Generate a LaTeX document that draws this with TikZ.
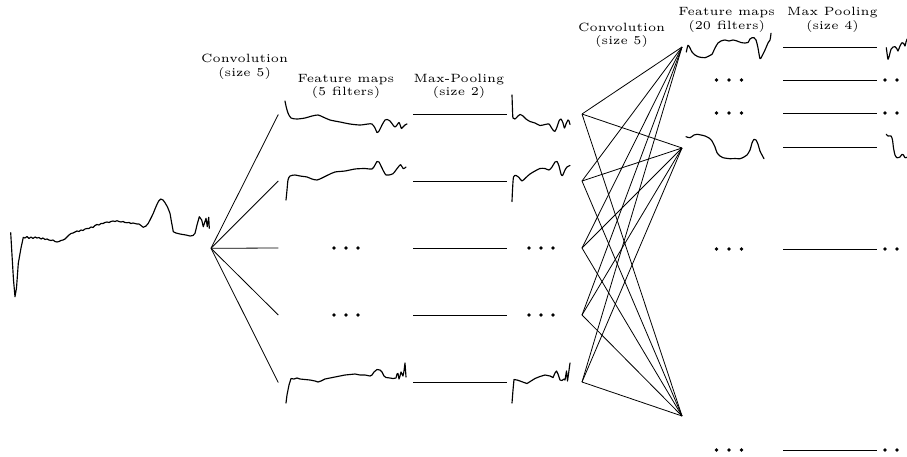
\documentclass[tikz,border=0pt]{standalone}
\begin{document}
\begin{tikzpicture}[x=1pt,y=-1pt,
  sig/.style={line width=1.15pt,line join=round,line cap=round},
  ssig/.style={sig,smooth,tension=0.45},
  conn/.style={line width=0.8pt},
  pool/.style={line width=0.85pt},
  lbl/.style={font=\fontsize{5}{5.6}\selectfont,scale=2.4,align=center,inner sep=0pt},
  dotmark/.style={fill=black}]
\useasboundingbox (0,0) rectangle (907,456);

% labels
\node[lbl] (l1) at (244.7,66.7) {Convolution\\(size 5)};
\node[lbl] (l2) at (346,86.3) {Feature maps\\(5 filters)};
\node[lbl] (l3) at (459,86.3) {Max-Pooling\\(size 2)};
\node[lbl] (l4) at (621.7,35) {Convolution\\(size 5)};
\node[lbl] (l5) at (726.7,20) {Feature maps\\(20 filters)};
\node[lbl] (l6) at (832.5,20) {Max Pooling\\(size 4)};

% input signal
\draw[sig] plot coordinates {(10.7,232.7) (12,255) (13.5,280) (15,296.7) (16.5,288) (18.3,263.3) (21,248) (23.3,237.3) (25,238) (27,236.5) (29,238.5) (31,237) (33,238.5) (35,237) (37,238) (39,237.5) (41,239) (43,238) (45,239.5) (47,239) (49,240) (51,240.5) (53,240) (55,241.5) (57,242) (59,241.5) (61,240.5) (63,240) (65,239) (67,237) (69,235) (71,233.5) (73,233) (75,232) (77,231) (79,231.5) (81,230) (83,230.5) (85,229) (87,228.5) (89,228.5) (91,227) (93,227.5) (95,225.5) (97,224.5) (99,225) (101,223.5) (103,223.5) (105,222.5) (107,222) (109,222.5) (111,221.5) (113,221) (115,221.5) (117,220.7) (119,221.5) (121,222) (123,221.5) (125,222.5) (127,222.7) (129,222.5) (131,223.5) (133,223) (135,223.5) (137,224) (139,224) (141,225.5) (143.3,227.3) (146,226) (148.3,223.3) (151,218) (153.3,213.3) (155,209) (156.7,205) (158.7,201) (160.7,199) (163,200) (165,202.7) (167.5,207) (170,213.3) (171.5,222) (173.3,231.7) (176,233) (180,234) (183,234.5) (186,235) (190,236) (193,235.5) (195,233.3) (197,225) (199.3,216.7) (201.7,220) (203.3,226.7) (206,218.3) (207.3,226.7) (208.7,217.3) (209.3,228.3)};

% first convolution fan
\coordinate (in) at (211,248.3);
\foreach \i/\y in {1/114.5,2/181,3/248,4/315,5/382.5}{
  \coordinate (f\i) at (278.3,\y);
  \draw[conn] (in) -- (f\i);
}

% feature maps (5 filters)
\draw[ssig] plot coordinates {(285,101) (286,106) (288,113) (291,118) (297,119) (305,118) (312,116) (318,115) (323,117) (330,120) (340,122) (350,124) (360,125) (368,124) (372,124) (375,128) (377,132.5) (379,131) (382,125) (385,120) (387,119.5) (390,121) (393,125) (395,127) (397,125) (399,122.5) (400.5,126) (401.5,128.5) (403,127) (405,125) (407,124)};
\draw[ssig] plot coordinates {(286,200) (287,190) (288,180) (290,176) (295,175) (300,176) (307,177) (312,179) (317,180) (322,178) (328,175) (335,172) (345,171) (355,169) (365,168.5) (372,169) (375,165) (377,161.5) (379,162) (381,166) (384,172) (386,175) (389,175) (393,173.7) (396,170) (398.3,167) (400.7,164.7) (403.3,168.7) (406,167)};
\draw[sig] plot coordinates {(286,403) (287,395) (289,385) (291,378.5) (294,379) (297,378) (300,379) (305,379.5) (310,380) (315,381) (318,382) (321,381) (325,379) (330,378) (335,377) (340,376) (345,375) (350,374.5) (355,374) (360,375) (365,375) (370,376) (372,375) (374,372) (377,369.5) (380,370) (382,372) (384,376) (386,377.5) (390,378) (393,378.5) (396,378) (397,374) (398,373.5) (399,379) (400,376) (401,372) (402,374) (403,376) (404,371) (405,363) (406,377)};
\foreach \y in {248,315}{
  \foreach \x in {334,346,358}{\fill[dotmark] (\x,\y) circle (1.9);}
}

% max-pooling (size 2)
\foreach \i/\y in {1/114,2/181,3/248,4/315,5/382.5}{
  \coordinate (ma\i) at (413.3,\y);
  \coordinate (mb\i) at (506.7,\y);
  \draw[pool] (ma\i) -- (mb\i);
}
\draw[ssig] plot coordinates {(512,95) (512.5,110) (513,118) (515,119) (518,116) (520,114.5) (523,116) (526,119) (530,121.5) (535,123) (540,125.5) (545,124.5) (549,124) (551,127) (553,130) (555,131.3) (557,127) (559,121) (561,119) (563,123) (564.5,128) (566,124) (568,120) (569,121) (570,124.5)};
\draw[ssig] plot coordinates {(512,201.5) (512.5,190) (513.5,177) (516,175.5) (519,177.5) (522,181) (526,177.5) (530,174) (535,171) (540,168.5) (545,168.5) (549,170) (552,167) (555,162) (557,161.5) (559,166) (561,174) (562.5,175.5) (565,170) (567,167) (570,165.5)};
\draw[sig] plot coordinates {(512,403) (513,390) (514,379.5) (517,380) (520,381) (524,382.5) (527,383.5) (531,381) (535,378.5) (540,376.5) (545,375) (550,376) (553,377.5) (555,373) (556.5,371) (558,374) (560,380) (562,380.5) (564,379) (565,380) (566.5,371) (567.5,381) (568.5,374) (570,363)};
\foreach \y in {248,315}{
  \foreach \x in {529,541,553}{\fill[dotmark] (\x,\y) circle (1.9);}
}

% second convolution
\foreach \i/\y in {1/114,2/181,3/248,4/315,5/382}{
  \coordinate (p\i) at (582,\y);
}
\coordinate (q1) at (682,47);
\coordinate (q2) at (682,148);
\coordinate (q3) at (682,416);
\foreach \i in {1,...,5}{
  \foreach \j in {1,2,3}{
    \draw[conn] (p\i) -- (q\j);
  }
}

% feature maps (20 filters)
\draw[ssig] plot coordinates {(686.3,52) (688,45.3) (690,48) (692,52) (695,55) (698,56.7) (702,57.5) (705,57.7) (709,56) (712,54.3) (715,48) (718,43) (721,41) (725,40) (729,41) (733,40) (737,41) (741,42.5) (745,43) (748,42.5) (750,39) (752,37.7) (754,37.7) (756,40) (758,48) (760,58.7) (762,56) (765,50) (768,43) (770,40) (771,33.3)};
\draw[ssig] plot coordinates {(686,136.7) (690,137.7) (694,135) (697,134.3) (701,135) (705,136) (709,138) (712,141) (715,147) (717,152.7) (720,156) (723,157.7) (730,158.7) (735,158.5) (740,158.7) (744,157) (747,155) (750,150) (752,143) (754,139.3) (756,140) (758,144.3) (760,151) (762,155) (764,158.7)};
\foreach \y in {80,113,249,450}{
  \foreach \x in {716.5,729,741.5}{\fill[dotmark] (\x,\y) circle (1.9);}
}

% max pooling (size 4)
\foreach \i/\y in {1/47,2/80,3/113.5,4/147.5,5/249,6/450}{
  \coordinate (ra\i) at (783,\y);
  \coordinate (rb\i) at (877,\y);
  \draw[pool] (ra\i) -- (rb\i);
}
\draw[ssig] plot coordinates {(886.3,47.7) (887,53) (888,59.3) (889.5,55) (891,49.3) (893,47) (895,46.7) (897,49) (898,51) (900,46) (902,42.7) (904,44) (905,46) (906,42) (907,39.3) (908,38)};
\draw[ssig] plot coordinates {(886.3,134.3) (888,136) (891,136) (892.5,140) (893.5,148) (895,155) (897,157.7) (900,157) (902,154.3) (903.5,155) (905,157.7) (908,157)};
\foreach \y in {80,113,249,450}{
  \foreach \x in {885,897}{\fill[dotmark] (\x,\y) circle (1.9);}
}
\end{tikzpicture}
\end{document}
